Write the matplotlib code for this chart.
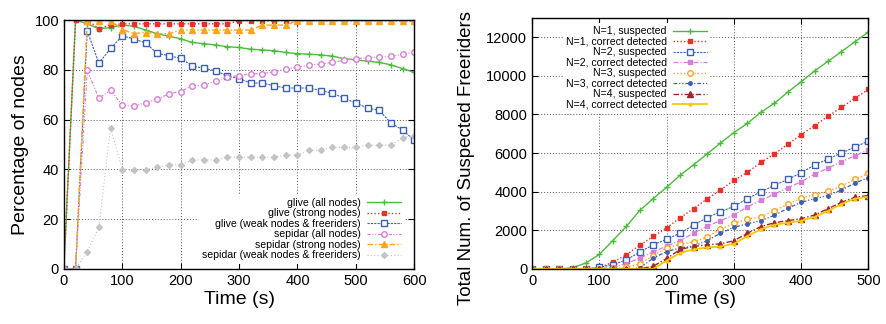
import matplotlib
matplotlib.use('Agg')
import matplotlib.pyplot as plt

plt.rcParams['font.family'] = ['Liberation Sans', 'DejaVu Sans']

# left panel: percentage of nodes over time
time_left = list(range(0, 601, 20))
glive_all = [0, 100, 98.5, 96.5, 97, 98, 97.5, 96, 94.5, 93.5, 92.5, 91, 90.5, 90, 89.3, 89,
             88.3, 88, 87.7, 87, 86.5, 86.3, 86, 85.5, 84.5, 84, 83.5, 83, 82, 80.5, 79]
glive_strong = [0, 100, 100, 96.6, 98.1, 98.5, 98.5, 98.5, 98.5, 98.5, 98.5, 98.5, 98.5, 98.5, 98.5,
                99.7, 99.7, 99.7, 99.7, 99.7, 99.7, 99.7, 99.7, 99.7, 99.7, 99.7, 99.7, 99.7, 99.7, 99.7, 99.7]
glive_weak = [0, 0, 95.6, 82.7, 88.6, 93.6, 92.5, 90.8, 86.6, 85.7, 84.6, 81.6, 80.6, 79.6, 77.6, 76.5,
              74.7, 74.7, 73.6, 72.7, 72.7, 72.7, 71.7, 70.6, 68.6, 66.6, 64.7, 63.7, 58.7, 55.8, 51.7]
sepidar_all = [0, 0, 79.8, 68.6, 71.8, 65.8, 65.4, 66.8, 68.2, 70.4, 71.3, 73.7, 73.8, 75.6, 77.1, 77.7,
               78.4, 78.5, 79.2, 80.3, 81.1, 81.9, 82.4, 83, 83.9, 84.5, 84.9, 85.1, 85.4, 86.2, 87.1]
sepidar_strong = [0, 0, 99.7, 99.7, 99.7, 96.2, 94.6, 95, 94.5, 94.5, 96, 96, 96, 96, 96, 96,
                  96, 98, 98, 98, 99.7, 99.7, 99.7, 99.7, 99.7, 99.7, 99.7, 99.7, 99.7, 99.7, 99.7]
sepidar_weak = [0, 0, 6.8, 16.9, 56.7, 39.8, 39.8, 39.8, 40.9, 41.8, 41.8, 43.8, 43.8, 43.8, 44.9, 44.9,
                44.9, 44.9, 44.9, 45.8, 45.8, 47.7, 47.7, 48.8, 48.8, 48.8, 49.7, 49.7, 49.7, 52.8, 53.6]

# right panel: suspected freeriders over time
time_right = list(range(0, 501, 20))
n1_susp = [0, 0, 0, 60, 310, 750, 1470, 2200, 3030, 3640, 4230, 4850, 5390, 5950, 6520, 7060,
           7530, 8110, 8570, 9150, 9690, 10250, 10750, 11250, 11760, 12260]
n1_corr = [0, 0, 0, 0, 0, 60, 350, 730, 1230, 1680, 2130, 2650, 3120, 3620, 4090, 4580,
           5000, 5510, 5950, 6450, 6950, 7420, 7910, 8360, 8840, 9290]
n2_susp = [0, 0, 0, 0, 0, 80, 220, 470, 870, 1250, 1540, 1850, 2270, 2650, 2960, 3240,
           3640, 3990, 4320, 4630, 4980, 5380, 5690, 6000, 6310, 6620]
n2_corr = [0, 0, 0, 0, 0, 0, 100, 260, 570, 880, 1180, 1470, 1850, 2200, 2500, 2790,
           3210, 3550, 3870, 4200, 4510, 4910, 5220, 5550, 5860, 6160]
n3_susp = [0, 0, 0, 0, 0, 0, 0, 90, 260, 690, 1090, 1280, 1400, 1650, 2050, 2360,
           2570, 2700, 3000, 3350, 3660, 3850, 4010, 4300, 4630, 4960]
n3_corr = [0, 0, 0, 0, 0, 0, 0, 0, 50, 560, 900, 1090, 1180, 1460, 1850, 2150,
           2340, 2500, 2770, 3140, 3450, 3640, 3800, 4090, 4440, 4730]
n4_susp = [0, 0, 0, 0, 0, 0, 0, 0, 0, 140, 540, 1010, 1160, 1250, 1300, 1460,
           1850, 2190, 2390, 2500, 2600, 2790, 3120, 3450, 3710, 3800]
n4_corr = [0, 0, 0, 0, 0, 0, 0, 0, 0, 0, 430, 830, 1010, 1110, 1160, 1300,
           1700, 2050, 2280, 2390, 2490, 2690, 3000, 3360, 3640, 3730]

GREEN = '#4dbb3f'
RED = '#e8302a'
BLUE = '#3b5fb5'
PINK = '#d77fd6'
ORANGE = '#ffa41c'
GRAY = '#c4c4c4'
DARKRED = '#a4262a'
YELLOW = '#f7c900'


def style_axes(ax):
    ax.grid(True, color='#555555', linestyle=(0, (1, 2)), linewidth=0.7)
    ax.set_axisbelow(True)
    ax.tick_params(direction='in', top=True, right=True, labelsize=10.5, length=4)
    for s in ax.spines.values():
        s.set_linewidth(1.0)


fig = plt.figure(figsize=(8.87, 3.24), dpi=100)
ax1 = fig.add_axes([0.072, 0.170, 0.395, 0.768])
ax2 = fig.add_axes([0.600, 0.170, 0.379, 0.775])

ms = 4
ax1.plot(time_left, glive_all, color=GREEN, lw=1.0, marker='+', ms=ms, label='glive (all nodes)')
ax1.plot(time_left, glive_strong, color=RED, lw=1.0, ls=(0, (1, 1.5)), marker='s', ms=ms - 1,
         label='glive (strong nodes)')
ax1.plot(time_left, glive_weak, color=BLUE, lw=0.8, ls=(0, (2, 1)), marker='s', ms=ms, mfc='white',
         mew=1.0, label='glive (weak nodes & freeriders)')
ax1.plot(time_left, sepidar_all, color=PINK, lw=0.8, ls=(0, (3, 1.5, 1, 1.5, 1, 1.5)), marker='o', ms=ms,
         mfc='white', mew=1.0, label='sepidar (all nodes)')
ax1.plot(time_left, sepidar_strong, color=ORANGE, lw=1.0, ls=(0, (4, 1.5, 1, 1.5)), marker='^', ms=ms,
         label='sepidar (strong nodes)')
ax1.plot(time_left, sepidar_weak, color=GRAY, lw=0.8, ls=(0, (1, 2)), marker='D', ms=ms - 1,
         label='sepidar (weak nodes & freeriders)')
ax1.set_xlim(0, 600)
ax1.set_ylim(0, 100)
ax1.set_xticks(range(0, 601, 100))
ax1.set_yticks(range(0, 101, 20))
style_axes(ax1)
ax1.set_xlabel('Time (s)', fontsize=14, labelpad=2)
ax1.set_ylabel('Percentage of nodes', fontsize=14, labelpad=4)
ax1.legend(loc='lower right', bbox_to_anchor=(0.985, 0.0), markerfirst=False, fontsize=7.6,
           handlelength=3.2, handletextpad=0.6, labelspacing=0.05, borderpad=0.3,
           frameon=True, framealpha=1, edgecolor='none', fancybox=False)

ax2.plot(time_right, n1_susp, color=GREEN, lw=1.0, marker='+', ms=ms, label='N=1, suspected')
ax2.plot(time_right, n1_corr, color=RED, lw=1.0, ls=(0, (1, 1.5)), marker='s', ms=ms - 1,
         label='N=1, correct detected')
ax2.plot(time_right, n2_susp, color=BLUE, lw=0.8, ls=(0, (2, 1)), marker='s', ms=ms, mfc='white',
         mew=1.0, label='N=2, suspected')
ax2.plot(time_right, n2_corr, color=PINK, lw=0.9, ls=(0, (4, 1.5, 1, 1.5)), marker='s', ms=ms - 1,
         label='N=2, correct detected')
ax2.plot(time_right, n3_susp, color=ORANGE, lw=1.0, ls=(0, (1, 1.5)), marker='o', ms=ms, mfc='white',
         mew=1.0, label='N=3, suspected')
ax2.plot(time_right, n3_corr, color=BLUE, lw=0.9, ls=(0, (3, 1.5, 1, 1.5, 1, 1.5)), marker='o', ms=ms - 1.5,
         label='N=3, correct detected')
ax2.plot(time_right, n4_susp, color=DARKRED, lw=1.0, ls=(0, (4, 1.5, 1, 1.5)), marker='^', ms=ms,
         label='N=4, suspected')
ax2.plot(time_right, n4_corr, color=YELLOW, lw=1.3, marker='^', ms=ms - 2,
         label='N=4, correct detected')
ax2.set_xlim(0, 500)
ax2.set_ylim(0, 13000)
ax2.set_xticks(range(0, 501, 100))
ax2.set_yticks(range(0, 12001, 2000))
style_axes(ax2)
ax2.set_xlabel('Time (s)', fontsize=14, labelpad=2)
ax2.set_ylabel('Total Num. of Suspected Freeriders', fontsize=13.5, labelpad=6)
ax2.yaxis.set_label_coords(-0.17, 0.44)
ax2.legend(loc='upper left', bbox_to_anchor=(0.075, 1.0), markerfirst=False, fontsize=7.6,
           handlelength=3.2, handletextpad=0.6, labelspacing=0.05, borderpad=0.3,
           frameon=True, framealpha=1, edgecolor='none', fancybox=False)

fig.savefig('out.png', dpi=100)
